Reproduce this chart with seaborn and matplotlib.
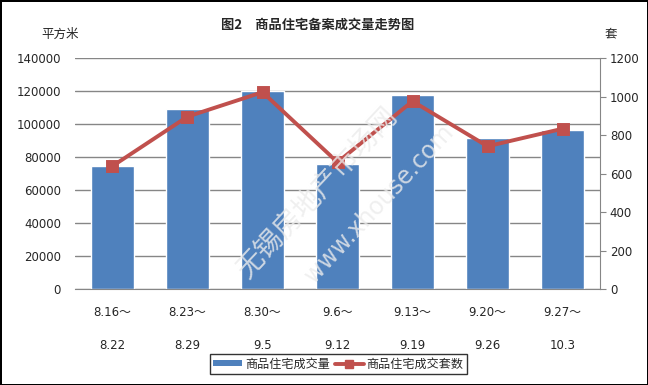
import matplotlib
matplotlib.use('Agg')
import matplotlib.pyplot as plt
import seaborn as sns
import pandas as pd
from matplotlib.patches import Patch
from matplotlib.lines import Line2D

# data
weeks = ['8.16～\n8.22', '8.23～\n8.29', '8.30～\n9.5', '9.6～\n9.12',
         '9.13～\n9.19', '9.20～\n9.26', '9.27～\n10.3']
area = [75000, 109000, 120000, 76000, 118000, 91500, 96500]      # 平方米
units = [640, 897, 1024, 660, 977, 743, 834]                     # 套
left_ticks = [0, 20000, 40000, 60000, 80000, 100000, 120000, 140000]
right_ticks = [0, 200, 400, 600, 800, 1000, 1200]

sns.set_style('white')
plt.rcParams['font.family'] = ['DejaVu Sans', 'Noto Sans CJK SC']

df = pd.DataFrame({'week': weeks, 'area': area, 'units': units})

fig = plt.figure(figsize=(6.48, 3.85), dpi=100, facecolor='white',
                 edgecolor='black', linewidth=2)
ax = fig.add_axes([0.1157, 0.2486, 0.8103, 0.6])

sns.barplot(data=df, x='week', y='area', color='#4F81BD', saturation=1,
            width=0.57, ax=ax, zorder=2)
ax.set_ylim(0, 140000)
ax.set_yticks(left_ticks)
ax.yaxis.grid(True, color='#868686', linewidth=1)
ax.set_axisbelow(True)
for s in ['top', 'right', 'left']:
    ax.spines[s].set_visible(False)
ax.spines['bottom'].set_color('#868686')
ax.tick_params(axis='y', length=0, pad=10, labelsize=8.5)
ax.tick_params(axis='x', length=0, pad=12, labelsize=8.5)
ax.set_xticks(range(len(weeks)))
ax.set_xticklabels(weeks, linespacing=3.0)
ax.set_xlabel('')
ax.set_ylabel('')

ax2 = ax.twinx()
sns.pointplot(data=df, x='week', y='units', color='#C0504D', markers='s',
              markersize=7, linewidth=2.8, ax=ax2)
ax2.set_ylim(0, 1200)
ax2.set_yticks(right_ticks)
for s in ['top', 'left', 'bottom']:
    ax2.spines[s].set_visible(False)
ax2.spines['right'].set_color('#868686')
ax2.tick_params(axis='y', length=4, color='#868686', direction='out',
                right=True, pad=3, labelsize=8.5)
ax2.set_ylabel('')
ax2.set_xlim(-0.5, 6.5)

# titles and axis units
fig.text(0.49, 0.935, '图2　商品住宅备案成交量走势图', ha='center', va='center',
         fontsize=9.5, fontweight='bold', family=['Noto Sans CJK SC'])
fig.text(0.092, 0.912, '平方米', ha='center', va='center', fontsize=9,
         family=['Noto Sans CJK SC'])
fig.text(0.942, 0.912, '套', ha='center', va='center', fontsize=9,
         family=['Noto Sans CJK SC'])

# faint watermark
fig.text(0.49, 0.50, '无锡房地产市场网', rotation=47, ha='center', va='center',
         fontsize=20, color='#ececec', alpha=0.8, family=['Noto Sans CJK SC'])
fig.text(0.585, 0.47, 'www.xhouse.com', rotation=47, ha='center', va='center',
         fontsize=17, color='#ececec', alpha=0.8)

handles = [Patch(facecolor='#4F81BD', edgecolor='none'),
           Line2D([0], [0], color='#C0504D', linewidth=2.8, marker='s',
                  markersize=6)]
leg = fig.legend(handles, ['商品住宅成交量', '商品住宅成交套数'],
                 loc='center', bbox_to_anchor=(0.522, 0.0545), ncol=2,
                 frameon=True, fancybox=False, edgecolor='black',
                 handlelength=2.4, handleheight=0.35,
                 columnspacing=0.4, handletextpad=0.25, borderpad=0.25,
                 prop={'family': ['Noto Sans CJK SC'], 'size': 8.7})
leg.get_frame().set_linewidth(1)

fig.savefig('out.png', dpi=100, facecolor='white', edgecolor='black')
